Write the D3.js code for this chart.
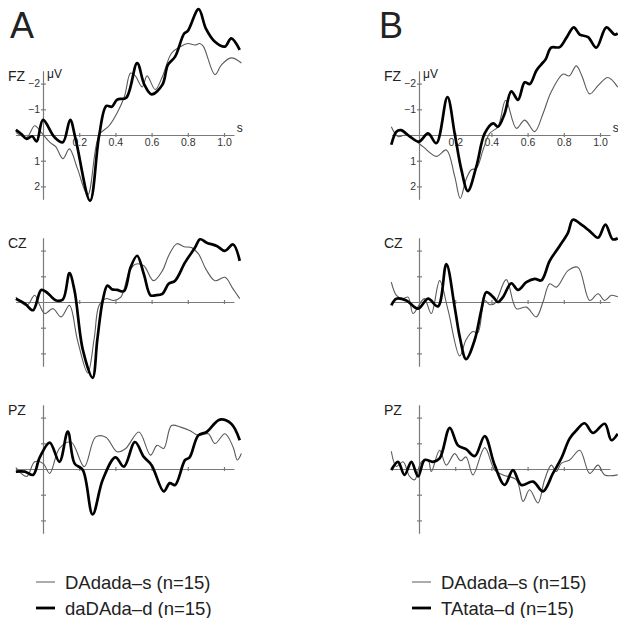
<!DOCTYPE html>
<html>
<head>
<meta charset="utf-8">
<script src="https://cdn.jsdelivr.net/npm/d3@7"></script>
<style>
  body { margin: 0; background: #fff; }
  svg { display: block; font-family: "Liberation Sans", Arial, Helvetica, sans-serif; }
</style>
</head>
<body>
<div id="graph"></div>
<script>
// time (s), amplitude (uV, negative up)
var fzA_s = [[-0.15,-0.1],[-0.09,0.09],[-0.046,-0.36],[-0.01,-0.1],[0.037,0.28],[0.07,0.45],[0.11,0.92],[0.146,0.54],[0.19,1.3],[0.247,2.33],[0.31,0],[0.365,-0.36],[0.41,-0.87],[0.45,-1.5],[0.484,-2.41],[0.51,-2.3],[0.548,-1.87],[0.575,-2.3],[0.62,-1.77],[0.66,-2.28],[0.71,-3.18],[0.76,-3.44],[0.80,-3.56],[0.84,-3.5],[0.866,-3.56],[0.886,-3.45],[0.95,-2.35],[0.986,-2.73],[1.04,-3.0],[1.096,-2.8]];
var fzA_d = [[-0.15,-0.2],[-0.12,-0.04],[-0.09,0.15],[-0.06,0.05],[-0.035,0.25],[0,-0.59],[0.064,0.09],[0.11,0.28],[0.15,-0.59],[0.18,0.15],[0.26,2.56],[0.31,0.03],[0.35,-1.13],[0.38,-1.1],[0.41,-1.38],[0.46,-1.45],[0.52,-2.8],[0.56,-1.96],[0.60,-1.58],[0.66,-1.96],[0.69,-2.73],[0.73,-3.05],[0.78,-3.95],[0.80,-4.05],[0.86,-4.9],[0.90,-4.14],[0.95,-3.63],[1.005,-3.44],[1.04,-3.76],[1.087,-3.31]];

var czA_s = [[-0.15,-0.19],[-0.09,0.13],[-0.046,-0.26],[-0.02,0.1],[0.01,0.45],[0.055,0.26],[0.1,0.58],[0.146,0.13],[0.19,1.47],[0.247,2.76],[0.283,1.41],[0.31,0.13],[0.347,-0.13],[0.39,-0.06],[0.43,-0.19],[0.475,-1.15],[0.51,-1.47],[0.557,-1.41],[0.61,-0.83],[0.66,-1.22],[0.694,-1.8],[0.74,-2.27],[0.78,-2.15],[0.82,-2.12],[0.86,-1.86],[0.9,-1.28],[0.95,-0.83],[1.005,-0.96],[1.05,-0.51],[1.087,-0.13]];
var czA_d = [[-0.15,-0.13],[-0.1,0.06],[-0.055,0.32],[-0.01,-0.47],[0.02,-0.38],[0.073,-0.06],[0.11,-0.1],[0.146,-1.12],[0.174,-0.45],[0.22,1.86],[0.274,2.95],[0.3,1.47],[0.33,-0.06],[0.356,-0.64],[0.38,-0.5],[0.41,-0.47],[0.447,-0.42],[0.484,-1.35],[0.52,-1.8],[0.557,-1.09],[0.594,-0.26],[0.62,-0.26],[0.66,-0.32],[0.694,-0.71],[0.73,-0.83],[0.785,-1.54],[0.84,-2.12],[0.868,-2.44],[0.904,-2.31],[0.96,-2.18],[1.005,-1.99],[1.05,-2.24],[1.087,-1.6]];

var pzA_s = [[-0.15,-0.05],[-0.09,0.29],[-0.046,-0.28],[0,-0.22],[0.037,0.17],[0.091,-0.8],[0.155,-1.05],[0.228,-0.09],[0.29,-1.24],[0.347,-1.24],[0.41,-0.67],[0.457,-0.8],[0.53,-1.44],[0.594,-0.54],[0.63,-0.92],[0.667,-0.8],[0.71,-1.69],[0.76,-1.63],[0.81,-1.5],[0.858,-1.31],[0.913,-1.37],[0.95,-0.99],[1.005,-1.37],[1.05,-0.86],[1.074,-0.35],[1.096,-0.6]];
var pzA_d = [[-0.15,0.1],[-0.1,0.1],[-0.055,0.23],[-0.018,-0.45],[0.037,-1.03],[0.091,-0.28],[0.137,-1.46],[0.174,-0.22],[0.22,0.04],[0.274,1.77],[0.33,0.42],[0.4,-0.45],[0.447,-0.09],[0.508,-1.05],[0.557,-0.47],[0.6,-0.15],[0.667,0.87],[0.7,0.55],[0.73,0.62],[0.785,-0.35],[0.81,-0.45],[0.858,-1.31],[0.904,-1.44],[0.977,-1.92],[1.04,-1.76],[1.087,-1.12]];

var fzB_s = [[-0.153,-0.32],[-0.116,0.06],[-0.07,0.0],[-0.024,0.2],[0.022,0.45],[0.096,0.83],[0.151,0.58],[0.197,1.6],[0.228,2.47],[0.26,1.73],[0.289,1.35],[0.317,1.3],[0.354,0.58],[0.39,-0.06],[0.436,-0.32],[0.479,-1.35],[0.538,-0.26],[0.584,-0.58],[0.639,-0.13],[0.685,-0.83],[0.73,-1.67],[0.796,-2.37],[0.83,-2.3],[0.869,-2.69],[0.9,-2.3],[0.943,-1.6],[0.989,-1.92],[1.044,-2.24],[1.098,-1.86]];
var fzB_d = [[-0.153,0.38],[-0.125,-0.13],[-0.1,-0.19],[-0.05,0.06],[0,0.26],[0.05,-0.06],[0.096,0.32],[0.157,-1.47],[0.197,-0.06],[0.234,1.35],[0.27,2.18],[0.317,1.22],[0.363,-0.06],[0.41,-0.45],[0.436,-0.32],[0.473,-0.83],[0.51,-1.7],[0.547,-1.37],[0.584,-2.05],[0.612,-1.98],[0.648,-2.5],[0.676,-2.75],[0.7,-2.95],[0.73,-3.4],[0.777,-3.42],[0.814,-3.78],[0.855,-4.19],[0.888,-3.91],[0.934,-3.81],[0.98,-3.4],[1.035,-4.19],[1.08,-3.91],[1.098,-3.95]];

var czB_s = [[-0.153,-0.77],[-0.125,-0.26],[-0.09,-0.13],[-0.06,-0.19],[-0.033,0.45],[0.005,0.06],[0.03,-0.13],[0.068,0.45],[0.114,-0.83],[0.16,0.3],[0.225,2.1],[0.26,1.47],[0.298,1.15],[0.325,1.2],[0.363,-0.06],[0.39,0.1],[0.418,0.06],[0.482,-0.87],[0.538,0.26],[0.593,0.2],[0.648,0.58],[0.685,0.0],[0.722,-0.71],[0.76,-0.58],[0.823,-1.22],[0.878,-1.35],[0.943,-0.06],[0.989,-0.32],[1.026,-0.06],[1.063,-0.26],[1.098,-0.2]];
var czB_d = [[-0.153,0.13],[-0.125,-0.13],[-0.07,-0.06],[-0.005,0.26],[0.05,-0.13],[0.105,0.17],[0.151,-1.47],[0.197,0.19],[0.225,1.35],[0.26,2.22],[0.308,1.47],[0.344,0.32],[0.372,-0.38],[0.41,-0.19],[0.436,0.0],[0.464,-0.19],[0.51,-0.73],[0.547,-0.47],[0.593,-0.77],[0.64,-0.9],[0.676,-0.84],[0.722,-1.6],[0.777,-2.18],[0.823,-2.69],[0.85,-3.2],[0.897,-3.01],[0.943,-2.76],[0.989,-2.5],[1.03,-3.01],[1.07,-2.44],[1.098,-2.48]];

var pzB_s = [[-0.153,-0.69],[-0.125,-0.1],[-0.088,-0.28],[-0.052,0.29],[-0.024,0.42],[0.013,-0.28],[0.05,-0.35],[0.068,0.1],[0.114,-0.73],[0.151,-0.15],[0.197,-0.6],[0.23,-0.32],[0.26,-0.47],[0.298,0.23],[0.363,-0.83],[0.418,0.04],[0.464,0.23],[0.538,0.42],[0.575,1.26],[0.611,0.81],[0.657,1.32],[0.694,0.42],[0.731,-0.15],[0.758,0.1],[0.786,-0.22],[0.832,-0.35],[0.888,-0.73],[0.943,0.17],[0.989,-0.15],[1.026,0.23],[1.098,0.23]];
var pzB_d = [[-0.153,0.04],[-0.116,-0.28],[-0.08,0.23],[-0.042,-0.28],[-0.005,0.29],[0.031,-0.35],[0.077,-0.28],[0.114,-0.41],[0.17,-1.6],[0.215,-0.92],[0.26,-0.77],[0.308,-0.5],[0.363,-1.28],[0.418,-0.15],[0.473,0.62],[0.519,0.04],[0.565,0.62],[0.63,0.49],[0.685,0.87],[0.74,0.17],[0.786,-0.41],[0.832,-1.18],[0.869,-1.5],[0.915,-1.78],[0.961,-1.4],[1.026,-1.76],[1.063,-1.12],[1.098,-1.37]];

var xTicks = [0.2, 0.4, 0.6, 0.8, 1.0];
var yTicks = [-2, -1, 1, 2];
var legendA = ["DAdada\u2013s (n=15)", "daDAda\u2013d (n=15)"];
var legendB = ["DAdada\u2013s (n=15)", "TAtata\u2013d (n=15)"];

var palette = {
  thin: "#5a5a5a",
  thick: "#000",
  axis: "#7a7a7a",
  text: "#222"
};

var svg = d3.select("#graph").append("svg")
  .attr("width", 618)
  .attr("height", 618);
svg.append("rect").attr("width", 618).attr("height", 618).attr("fill", "#fff");

var columns = [
  { name: "A", x0: 43, label: 10, legend: legendA, rows: [[fzA_s, fzA_d], [czA_s, czA_d], [pzA_s, pzA_d]] },
  { name: "B", x0: 419, label: 379, legend: legendB, rows: [[fzB_s, fzB_d], [czB_s, czB_d], [pzB_s, pzB_d]] }
];
var rowNames = ["FZ", "CZ", "PZ"];
var rowZero = [135, 302, 469];
var secPx = 181, uvPx = 25.7;

columns.forEach(function(col) {
  var g = svg.append("g");

  g.append("text")
    .attr("x", col.label).attr("y", 38)
    .attr("font-size", 36)
    .attr("fill", "#222")
    .text(col.name);

  col.rows.forEach(function(pair, r) {
    var y0 = rowZero[r];
    var x = d3.scaleLinear().domain([0, 1]).range([col.x0, col.x0 + secPx]);
    var y = d3.scaleLinear().domain([0, 1]).range([y0, y0 + uvPx]);
    var xa = d3.scaleLinear().domain([-0.152, 1.055]).range([x(-0.152), x(1.055)]);
    var ya = d3.scaleLinear().domain([-2.5, 2.5]).range([y(-2.5), y(2.5)]);

    //X AXIS
    var xg = g.append("g")
      .attr("transform", "translate(0," + y0 + ")")
      .call(d3.axisBottom(xa).tickValues(xTicks).tickSizeOuter(0).tickSizeInner(0).tickPadding(4)
        .tickFormat(r == 0 ? d3.format(".1f") : function() { return ""; }));
    xg.selectAll(".tick line").attr("y1", -2).attr("y2", 2);

    //Y AXIS
    var yg = g.append("g")
      .attr("transform", "translate(" + col.x0 + ",0)")
      .call(d3.axisLeft(ya).tickValues(yTicks).tickSizeOuter(0).tickSizeInner(2).tickPadding(1)
        .tickFormat(r == 0 ? d3.format("d") : function() { return ""; }));
    yg.selectAll(".tick line").attr("x1", -2).attr("x2", 3);

    [xg, yg].forEach(function(a) {
      a.select(".domain").attr("stroke", palette.axis).attr("stroke-width", 1.2);
      a.selectAll(".tick line").attr("stroke", palette.axis).attr("stroke-width", 1.2);
      a.selectAll("text").attr("fill", "#333").attr("font-size", 10.5)
        .attr("font-family", "Liberation Sans, Arial, sans-serif");
    });

    g.append("text")
      .attr("x", col.x0 - 35).attr("y", y0 - 54)
      .attr("font-size", 14).attr("fill", palette.text)
      .text(rowNames[r]);

    if (r == 0) {
      g.append("text")
        .attr("x", col.x0 + 4).attr("y", y0 - 57)
        .attr("font-size", 12).attr("fill", palette.text)
        .text("\u03bcV");
      g.append("text")
        .attr("x", x(1.07)).attr("y", y0 - 3)
        .attr("font-size", 12).attr("fill", palette.text)
        .text("s");
    }

    var line = d3.line()
      .x(function(d) { return x(d[0]); })
      .y(function(d) { return y(d[1]); })
      .curve(d3.curveCatmullRom.alpha(0.5));

    g.append("path").datum(pair[0])
      .attr("d", line)
      .attr("fill", "none")
      .attr("stroke", palette.thin)
      .attr("stroke-width", 1.1);

    g.append("path").datum(pair[1])
      .attr("d", line)
      .attr("fill", "none")
      .attr("stroke", palette.thick)
      .attr("stroke-width", 2.7)
      .attr("stroke-linejoin", "round");
  });

  //LEGEND
  var lg = g.append("g").attr("transform", "translate(" + (col.x0 - 7) + ",0)");
  col.legend.forEach(function(name, i) {
    lg.append("line")
      .attr("x1", 0).attr("x2", 19)
      .attr("y1", 582 + i * 26).attr("y2", 582 + i * 26)
      .attr("stroke", i == 0 ? "#888" : "#000")
      .attr("stroke-width", i == 0 ? 1.4 : 2.8);
    lg.append("text")
      .attr("x", 29).attr("y", 589 + i * 26)
      .attr("font-size", 18.5)
      .attr("fill", "#222")
      .text(name);
  });
});
</script>
</body>
</html>
